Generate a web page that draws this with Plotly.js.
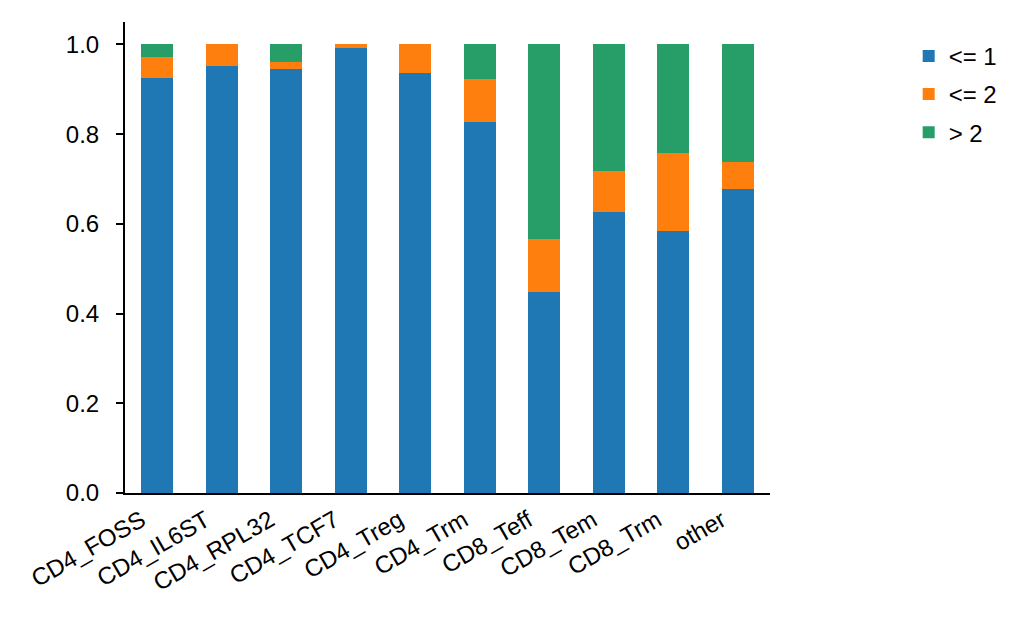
<!DOCTYPE html>
<html>
<head>
<meta charset="utf-8">
<script src="https://cdn.plot.ly/plotly-3.0.1.min.js"></script>
<style>html,body{margin:0;padding:0;background:#fff;}#chart{width:1034px;height:625px;}</style>
</head>
<body>
<div id="chart"></div>
<script>
const categories = ["CD4_FOSS","CD4_IL6ST","CD4_RPL32","CD4_TCF7","CD4_Treg","CD4_Trm","CD8_Teff","CD8_Tem","CD8_Trm","other"];
const le1 = [0.926,0.953,0.946,0.991,0.937,0.826,0.447,0.626,0.584,0.678];
const le2 = [0.045,0.047,0.014,0.009,0.063,0.096,0.119,0.092,0.174,0.060];
const gt2 = [0.029,0.000,0.040,0.000,0.000,0.078,0.434,0.282,0.242,0.262];
const seriesNames = ["<= 1","<= 2","> 2"];
const colors = ["#1f77b4","#ff7f0e","#279e68"];
const yTicks = [0,0.2,0.4,0.6,0.8,1.0];
const yTickText = ["0.0","0.2","0.4","0.6","0.8","1.0"];

const font = "Liberation Sans, Arial, sans-serif";
const fs = 24;
const data = [le1, le2, gt2].map((v,i)=>({
  type:"bar", x:categories, y:v, name:seriesNames[i], legendgroup:"g"+i,
  marker:{color:colors[i], line:{width:0}}, width:0.5
}));
const layout = {
  width:1034, height:625, barmode:"stack",
  margin:{l:125, r:264, t:22, b:132},
  paper_bgcolor:"#fff", plot_bgcolor:"#fff",
  font:{family:font, size:fs, color:"#000"},
  showlegend:true,
  legend:{x:1.215, y:0.975, xanchor:"left", yanchor:"top", traceorder:"grouped", tracegroupgap:4,
    font:{family:font,size:fs,color:"#000"}, bgcolor:"rgba(0,0,0,0)"},
  xaxis:{range:[-0.5,9.5], showline:true, linecolor:"#000", linewidth:2, ticks:"", tickangle:-30,
    ticklabelshift:-16, ticklabelstandoff:2,
    tickfont:{family:font,size:fs,color:"#000"}, showgrid:false, zeroline:false, fixedrange:true},
  yaxis:{range:[0,1.05], showline:true, linecolor:"#000", linewidth:2, ticks:"outside", ticklen:7, tickwidth:2, tickcolor:"#000",
    ticklabelposition:"outside", ticklabelstandoff:12,
    tickvals:yTicks, ticktext:yTickText, tickfont:{family:font,size:fs,color:"#000"}, showgrid:false, zeroline:false, fixedrange:true}
};
Plotly.newPlot("chart", data, layout, {displayModeBar:false, staticPlot:true});
</script>
</body>
</html>
